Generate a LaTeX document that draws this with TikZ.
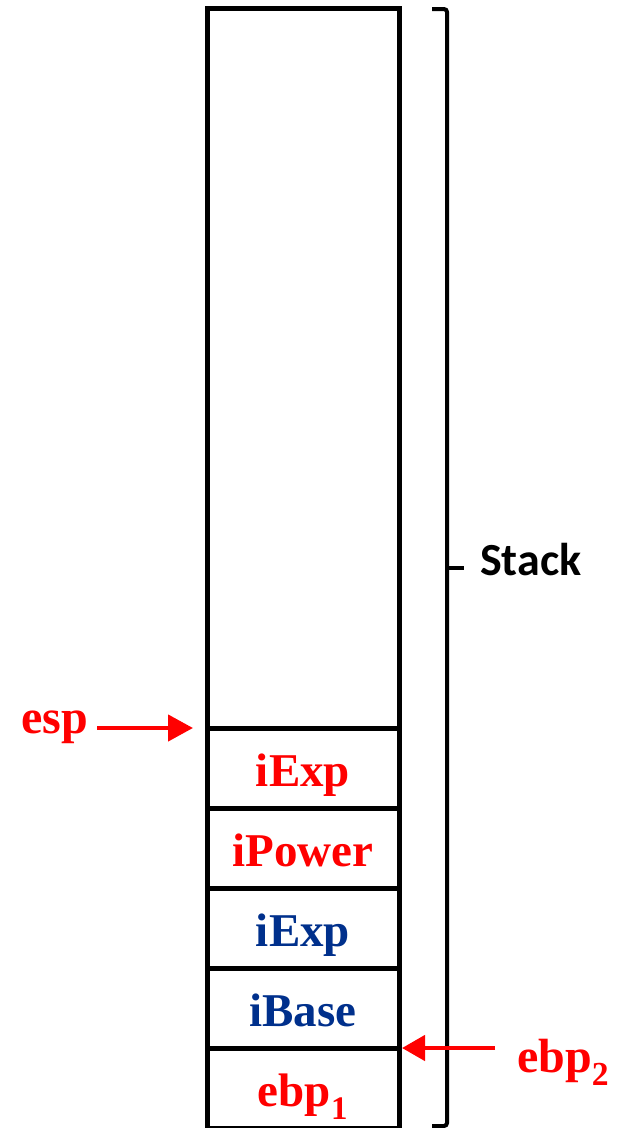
\documentclass[tikz,border=0pt]{standalone}
\usepackage{fontspec}
\setmainfont{Liberation Serif}
\newfontfamily\stackfont{Carlito}
\usetikzlibrary{arrows.meta}
\definecolor{myred}{RGB}{255,0,0}
\definecolor{myblue}{RGB}{0,48,140}
\begin{document}
\begin{tikzpicture}[x=1pt,y=-1pt,
  cell/.style={draw=black, line width=5pt, minimum width=192pt, inner sep=0pt, outer sep=0pt,
    text height=40pt, text depth=4pt,
    font=\fontsize{47}{50}\selectfont\bfseries},
  redtxt/.style={text=myred},
  bluetxt/.style={text=myblue},
  ptr/.style={draw=myred, line width=4.5pt, -{Triangle[length=25pt,width=26pt]}},
  lbl/.style={text=myred, font=\fontsize{48}{52}\selectfont\bfseries, inner sep=0pt},
  brace/.style={draw=black, line width=4pt, rounded corners=3pt}
]
\useasboundingbox (0,0) rectangle (619,1128);
\node[cell, minimum height=720pt, text height=0pt, text depth=0pt] (top) at (303,368) {};
\node[cell, minimum height=80pt, redtxt] (c1) at (303,768) {iExp};
\node[cell, minimum height=80pt, redtxt] (c2) at (303,848) {iPower};
\node[cell, minimum height=80pt, bluetxt] (c3) at (303,928) {iExp};
\node[cell, minimum height=80pt, bluetxt] (c4) at (303,1008) {iBase};
\node[cell, minimum height=80pt, redtxt] (c5) at (303,1088) {ebp\textsubscript{1}};
% brace
\coordinate (bt) at (432,9);
\coordinate (bb) at (432,1126);
\draw[brace] (bt) -- (447,9) -- (447,1126) -- (bb);
\coordinate (tick) at (447,568);
\coordinate (tickend) at (464,568);
\draw[line width=4pt] (tick) -- (tickend);
\node[anchor=base west, inner sep=0pt, font=\stackfont\fontsize{46}{50}\selectfont\bfseries] (stack) at (480,575) {Stack};
% esp
\node[lbl, anchor=base east] (esp) at (88,733) {esp};
\coordinate (esptip) at (193,728);
\coordinate (espstart) at (97,728);
\draw[ptr] (espstart) -- (esptip);
% ebp2
\node[lbl, anchor=base west] (ebp) at (517,1072) {ebp\textsubscript{2}};
\coordinate (ebpstart) at (495,1048);
\coordinate (ebptip) at (402,1048);
\draw[ptr, -{Triangle[length=23pt,width=25pt]}] (ebpstart) -- (ebptip);
\end{tikzpicture}
\end{document}
